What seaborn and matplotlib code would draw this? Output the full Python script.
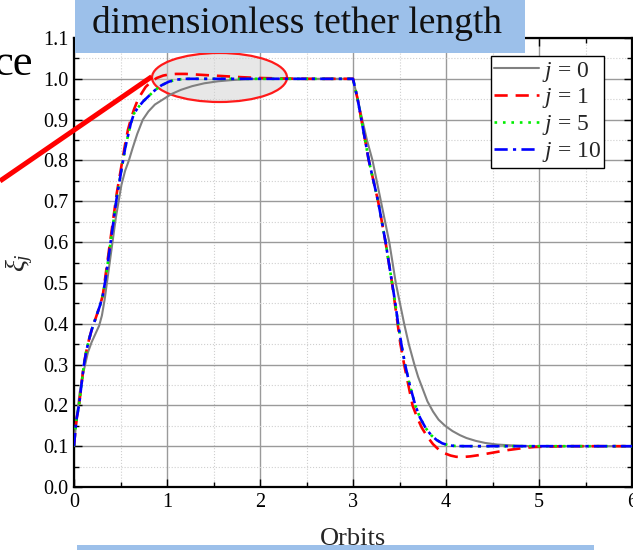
import numpy as np
import pandas as pd
import matplotlib
matplotlib.use("Agg")
import matplotlib.pyplot as plt
import seaborn as sns
from matplotlib.patches import Rectangle, Ellipse
from matplotlib.lines import Line2D

# ---------------- data ----------------
t_j0 = [0, 0.02, 0.04, 0.06, 0.09, 0.12, 0.15, 0.19, 0.23, 0.27, 0.30, 0.33, 0.36, 0.39,
        0.42, 0.45, 0.48, 0.51, 0.55, 0.59, 0.63, 0.68, 0.74, 0.80, 0.87, 0.96, 1.05,
        1.15, 1.27, 1.4, 1.55, 1.7, 1.85, 2.0, 2.5, 3.0,
        3.03, 3.06, 3.10, 3.15, 3.21, 3.255, 3.30, 3.345, 3.39, 3.425, 3.46, 3.505, 3.55,
        3.60, 3.66, 3.70, 3.75, 3.80, 3.86, 3.92, 3.99, 4.07, 4.15, 4.22, 4.32, 4.42,
        4.55, 4.7, 4.85, 5.0, 5.5, 6.0]
v_j0 = [0.10, 0.15, 0.19, 0.23, 0.27, 0.30, 0.33, 0.355, 0.375, 0.395, 0.42, 0.46, 0.51,
        0.56, 0.61, 0.66, 0.70, 0.74, 0.775, 0.80, 0.83, 0.865, 0.90, 0.92, 0.937, 0.95,
        0.963, 0.973, 0.982, 0.989, 0.994, 0.997, 0.999, 1.0, 1.0, 1.0,
        0.97, 0.94, 0.90, 0.85, 0.80, 0.75, 0.70, 0.65, 0.60, 0.55, 0.50, 0.45, 0.40,
        0.35, 0.30, 0.27, 0.24, 0.21, 0.185, 0.165, 0.15, 0.137, 0.127, 0.12, 0.113, 0.108,
        0.104, 0.102, 0.1005, 0.10, 0.10, 0.10]

t_j1 = [0, 0.015, 0.03, 0.054, 0.08, 0.105, 0.13, 0.16, 0.19, 0.22, 0.25, 0.28, 0.31, 0.34,
        0.37, 0.40, 0.43, 0.46, 0.49, 0.52, 0.55, 0.58, 0.61, 0.645, 0.68, 0.72, 0.77,
        0.83, 0.89, 0.96, 1.03, 1.1, 1.2, 1.35, 1.5, 1.65, 1.8, 2.0, 2.2, 2.5, 3.0,
        3.02, 3.05, 3.09, 3.13, 3.17, 3.22, 3.27, 3.31, 3.35, 3.385, 3.42, 3.45, 3.48,
        3.51, 3.55, 3.595, 3.64, 3.69, 3.74, 3.80, 3.86, 3.92, 3.98, 4.05, 4.11, 4.18,
        4.26, 4.35, 4.45, 4.55, 4.65, 4.75, 4.85, 4.95, 5.1, 5.3, 5.6, 6.0]
v_j1 = [0.10, 0.14, 0.17, 0.20, 0.25, 0.30, 0.33, 0.36, 0.385, 0.405, 0.425, 0.445, 0.47,
        0.52, 0.57, 0.62, 0.67, 0.72, 0.76, 0.80, 0.84, 0.875, 0.90, 0.925, 0.945, 0.962,
        0.98, 0.993, 1.002, 1.008, 1.011, 1.012, 1.012, 1.01, 1.008, 1.006, 1.004, 1.002,
        1.001, 1.0, 1.0,
        0.98, 0.95, 0.90, 0.85, 0.80, 0.75, 0.70, 0.65, 0.60, 0.55, 0.50, 0.45, 0.40,
        0.35, 0.30, 0.25, 0.20, 0.17, 0.145, 0.123, 0.105, 0.092, 0.083, 0.077, 0.074,
        0.0735, 0.075, 0.078, 0.082, 0.086, 0.09, 0.093, 0.096, 0.098, 0.099, 0.10, 0.10,
        0.10]

t_j5 = [0, 0.015, 0.03, 0.054, 0.08, 0.107, 0.13, 0.16, 0.19, 0.22, 0.25, 0.28, 0.31, 0.34,
        0.37, 0.40, 0.43, 0.46, 0.49, 0.52, 0.55, 0.58, 0.61, 0.645, 0.69, 0.745, 0.80,
        0.87, 0.94, 1.02, 1.1, 1.2, 1.35, 1.5, 2.0, 2.5, 3.0,
        3.02, 3.05, 3.09, 3.13, 3.17, 3.22, 3.27, 3.31, 3.35, 3.385, 3.42, 3.455, 3.485,
        3.52, 3.56, 3.61, 3.67, 3.72, 3.78, 3.84, 3.90, 3.96, 4.03, 4.1, 4.2, 4.5, 5.0,
        5.5, 6.0]
v_j5 = [0.10, 0.14, 0.17, 0.20, 0.25, 0.30, 0.33, 0.36, 0.385, 0.405, 0.425, 0.445, 0.47,
        0.51, 0.56, 0.61, 0.66, 0.71, 0.75, 0.79, 0.83, 0.86, 0.89, 0.915, 0.93, 0.945,
        0.957, 0.972, 0.984, 0.993, 0.998, 1.0, 1.0, 1.0, 1.0, 1.0, 1.0,
        0.98, 0.95, 0.90, 0.85, 0.80, 0.75, 0.70, 0.65, 0.60, 0.55, 0.50, 0.45, 0.40,
        0.35, 0.30, 0.25, 0.20, 0.17, 0.145, 0.127, 0.115, 0.107, 0.102, 0.1005, 0.10,
        0.10, 0.10, 0.10, 0.10]

t_j10 = list(t_j5)
v_j10 = list(v_j5)

series_labels = ["$j$ = 0", "$j$ = 1", "$j$ = 5", "$j$ = 10"]
x_ticks = [0, 1, 2, 3, 4, 5, 6]
y_ticks = [0.0, 0.1, 0.2, 0.3, 0.4, 0.5, 0.6, 0.7, 0.8, 0.9, 1.0, 1.1]

# ---------------- style ----------------
sns.set_theme(style="ticks")
plt.rcParams["font.family"] = ["Liberation Serif", "DejaVu Serif"]
plt.rcParams["mathtext.fontset"] = "custom"
plt.rcParams["mathtext.rm"] = "Liberation Serif"
plt.rcParams["mathtext.it"] = "Liberation Serif:italic"

W, H = 633, 550
fig = plt.figure(figsize=(W / 100, H / 100), dpi=100)
ax_l, ax_r, ax_t, ax_b = 74, 632, 38, 487
ax = fig.add_axes([ax_l / W, 1 - ax_b / H, (ax_r - ax_l) / W, (ax_b - ax_t) / H])

frames = [
    pd.DataFrame({"t": t_j0, "v": v_j0}),
    pd.DataFrame({"t": t_j1, "v": v_j1}),
    pd.DataFrame({"t": t_j5, "v": v_j5}),
    pd.DataFrame({"t": t_j10, "v": v_j10}),
]
colors = ["#808080", "#ff0000", "#00ee00", "#0000ff"]
widths = [1.5, 1.9, 1.9, 1.9]
dashes = [None, (5, 3), (1, 2.2), (5, 2, 1.2, 2)]

handles = []
for df, c, lw, d in zip(frames, colors, widths, dashes):
    n0 = len(ax.lines)
    sns.lineplot(data=df, x="t", y="v", ax=ax, color=c, linewidth=lw,
                 estimator=None, sort=False, legend=False)
    ln = ax.lines[n0]
    if d is not None:
        ln.set_dashes(d)
    ln.set_zorder(3)
    handles.append(ln)

ax.set_xlim(0, 6)
ax.set_ylim(0, 1.1)
ax.set_xticks(x_ticks)
ax.set_yticks(y_ticks)
ax.set_xticklabels([str(v) for v in x_ticks])
ax.set_yticklabels([f"{v:.1f}" for v in y_ticks])
ax.xaxis.set_minor_locator(matplotlib.ticker.MultipleLocator(0.5))
ax.yaxis.set_minor_locator(matplotlib.ticker.MultipleLocator(0.05))
ax.tick_params(which="both", direction="in", top=True, right=True, colors="black",
               labelsize=14.5, width=1.0)
ax.tick_params(which="major", length=6, pad=4)
ax.tick_params(which="minor", length=3.5)
ax.grid(which="major", color="#9a9a9a", linewidth=1.0, linestyle="-")
ax.grid(which="minor", color="#cfcfcf", linewidth=0.8, linestyle=":")
ax.set_axisbelow(True)
for s in ax.spines.values():
    s.set_visible(True)
    s.set_color("black")
    s.set_linewidth(1.6)

ax.set_xlabel("Orbits", fontsize=19, labelpad=12)
ax.set_ylabel(r"$\xi_j$", fontsize=20, labelpad=6)

leg = ax.legend(handles, series_labels, loc="upper right",
                bbox_to_anchor=((604 - ax_l) / (ax_r - ax_l), (ax_b - 56) / (ax_b - ax_t)),
                borderaxespad=0, fontsize=17, frameon=True, fancybox=False,
                edgecolor="black", framealpha=1, borderpad=0.15, labelspacing=0.12,
                handlelength=1.9, handletextpad=0.1)
leg.get_frame().set_linewidth(1.0)
leg.set_zorder(6)

# highlight ellipse (annotation, positioned in pixel terms)
def px2data(px, py):
    return ((px - ax_l) / (ax_r - ax_l) * 6, (ax_b - py) / (ax_b - ax_t) * 1.1)

cx, cy = px2data(219.5, 77.5)
ew = 135 / (ax_r - ax_l) * 6
eh = 49 / (ax_b - ax_t) * 1.1
ax.add_patch(Ellipse((cx, cy), ew, eh, facecolor=(0.82, 0.82, 0.82, 0.5),
                     edgecolor="#ff1a1a", linewidth=1.6, zorder=2))

# red pointer line
fig.add_artist(Line2D([0, 151.7 / W], [1 - 181 / H, 1 - 76.7 / H], color="#ff0000",
                      linewidth=3.6, solid_capstyle="butt", zorder=7))

# cut-off text at the left
fig.text(32.5 / W, 1 - 75 / H, "ce", ha="right", va="baseline", fontsize=32, color="black")

# title box
fig.add_artist(Rectangle((75 / W, 1 - 52.5 / H), 450 / W, 52.5 / H,
                         transform=fig.transFigure, facecolor="#9cc0ea",
                         edgecolor="none", zorder=8))
fig.text(297.5 / W, 1 - 33 / H, "dimensionless tether length", ha="center",
         va="baseline", fontsize=27, color="#111111", zorder=9)

# bottom box
fig.add_artist(Rectangle((77 / W, 0), 517 / W, 5.5 / H, transform=fig.transFigure,
                         facecolor="#9cc0ea", edgecolor="none", zorder=8))

fig.savefig("out.png", dpi=100)
